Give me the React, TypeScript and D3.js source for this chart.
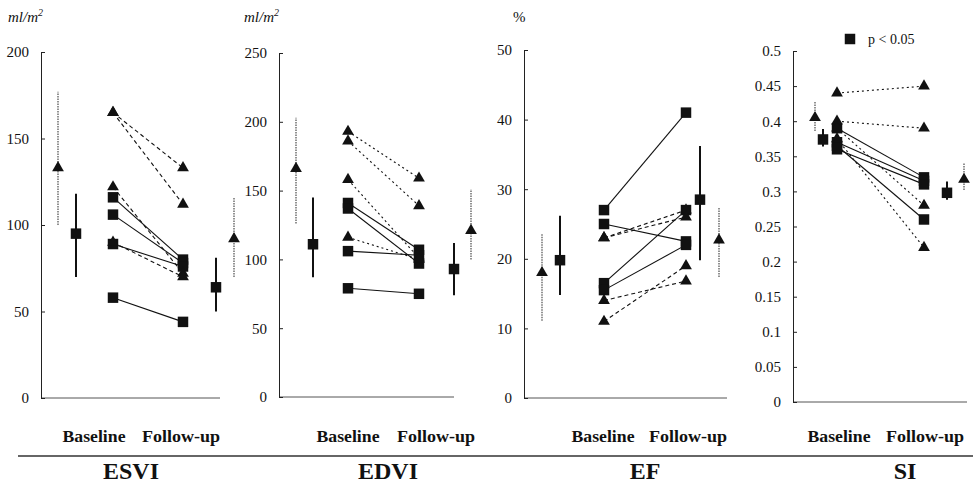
import React, { useEffect, useRef } from "react";
import * as d3 from "d3";

// column keys along each panel: summary markers left, paired points, summary markers right
const colKeys = ["triL", "sqL", "base", "follow", "sqR", "triR"];

// ESVI (ml/m2)
const esviTicks = [0, 50, 100, 150, 200];
const esviTriBase = [165, 165, 122, 90];
const esviTriFollow = [133, 112, 72, 70];
const esviSqBase = [116, 106, 89, 58];
const esviSqFollow = [80, 78, 76, 44];
// [mean, low, high]
const esviTriBaseSum = [133, 100, 177];
const esviSqBaseSum = [95, 70, 118];
const esviSqFollowSum = [64, 50, 81];
const esviTriFollowSum = [92, 70, 116];

// EDVI (ml/m2)
const edviTicks = [0, 50, 100, 150, 200, 250];
const edviTriBase = [193, 186, 158, 116];
const edviTriFollow = [159, 139, 101, 100];
const edviSqBase = [141, 137, 106, 79];
const edviSqFollow = [107, 97, 103, 75];
const edviTriBaseSum = [166, 126, 203];
const edviSqBaseSum = [111, 87, 145];
const edviSqFollowSum = [93, 74, 112];
const edviTriFollowSum = [121, 100, 151];

// EF (%)
const efTicks = [0, 10, 20, 30, 40, 50];
const efTriBase = [23, 23, 14, 11];
const efTriFollow = [27, 26, 16.8, 19];
const efSqBase = [27, 25, 16.5, 15.5];
const efSqFollow = [41, 22.5, 27, 22];
const efTriBaseSum = [18, 11.1, 23.6];
const efSqBaseSum = [19.8, 14.8, 26.2];
const efSqFollowSum = [28.5, 19.8, 36.2];
const efTriFollowSum = [22.7, 17.4, 27.4];

// SI
const siTicks = [0, 0.05, 0.1, 0.15, 0.2, 0.25, 0.3, 0.35, 0.4, 0.45, 0.5];
const siTriBase = [0.44, 0.4, 0.39, 0.375];
const siTriFollow = [0.45, 0.39, 0.28, 0.22];
const siSqBase = [0.39, 0.37, 0.36, 0.365];
const siSqFollow = [0.32, 0.315, 0.31, 0.26];
const siTriBaseSum = [0.405, 0.386, 0.428];
const siSqBaseSum = [0.374, 0.364, 0.389];
const siSqFollowSum = [0.298, 0.288, 0.314];
const siTriFollowSum = [0.317, 0.302, 0.34];

const xLabels = ["Baseline", "Follow-up"];
const legendText = "p < 0.05";

const panels = [
  { title: "ESVI", unit: "ml/m", sup: "2", ticks: esviTicks, triBase: esviTriBase, triFollow: esviTriFollow, sqBase: esviSqBase, sqFollow: esviSqFollow, sums: [esviTriBaseSum, esviSqBaseSum, esviSqFollowSum, esviTriFollowSum], dash: "4,3" },
  { title: "EDVI", unit: "ml/m", sup: "2", ticks: edviTicks, triBase: edviTriBase, triFollow: edviTriFollow, sqBase: edviSqBase, sqFollow: edviSqFollow, sums: [edviTriBaseSum, edviSqBaseSum, edviSqFollowSum, edviTriFollowSum], dash: "2,3" },
  { title: "EF", unit: "%", sup: "", ticks: efTicks, triBase: efTriBase, triFollow: efTriFollow, sqBase: efSqBase, sqFollow: efSqFollow, sums: [efTriBaseSum, efSqBaseSum, efSqFollowSum, efTriFollowSum], dash: "4,3" },
  { title: "SI", unit: "", sup: "", ticks: siTicks, triBase: siTriBase, triFollow: siTriFollow, sqBase: siSqBase, sqFollow: siSqFollow, sums: [siTriBaseSum, siSqBaseSum, siSqFollowSum, siTriFollowSum], dash: "2,3" },
];

// pixel layout for each panel
const layouts = [
  { axisX: 41, xEnd: 220, y0: 398, yTop: 52, cols: [17, 35, 72, 142, 175, 193], labels: [94, 181], titleX: 131, unitX: 8 },
  { axisX: 279, xEnd: 454, y0: 397, yTop: 53, cols: [17, 34, 69, 140, 175, 192], labels: [348, 436], titleX: 388, unitX: 244 },
  { axisX: 524, xEnd: 727, y0: 398, yTop: 50, cols: [18, 36, 80, 162, 176, 195], labels: [603, 688], titleX: 645, unitX: 513 },
  { axisX: 793, xEnd: 967, y0: 402, yTop: 51, cols: [22, 30, 44, 131, 154, 171], labels: [839, 925], titleX: 905, unitX: 0 },
];

const FONT = "Liberation Serif, Times New Roman, serif";

const tri = d3.symbol().type(d3.symbolTriangle).size(60)();
const sq = d3.symbol().type(d3.symbolSquare).size(110)();

function drawPanel(svg: any, p: any, L: any) {
  const y = d3.scaleLinear().domain([0, p.ticks[p.ticks.length - 1]]).range([L.y0, L.yTop]);
  const x = d3.scaleOrdinal<string, number>().domain(colKeys).range(L.cols.map((c: number) => L.axisX + c));
  const g = svg.append("g");

  // x axis baseline
  g.append("line")
    .attr("x1", L.axisX).attr("x2", L.xEnd)
    .attr("y1", L.y0).attr("y2", L.y0)
    .attr("stroke", "#555").attr("stroke-width", 1);

  // y axis
  const ax = g.append("g")
    .attr("transform", `translate(${L.axisX},0)`)
    .call(
      d3.axisLeft(y)
        .tickValues(p.ticks)
        .tickFormat((d: any) => String(+d.toFixed(2)))
        .tickSize(-4)
        .tickSizeOuter(0)
        .tickPadding(12)
    );
  ax.attr("font-size", 15).attr("font-family", FONT);
  ax.select(".domain").attr("stroke", "#222");
  ax.selectAll(".tick line").attr("stroke", "#222");
  ax.selectAll(".tick text").attr("fill", "#111");

  // unit label
  if (p.unit) {
    const t = g.append("text")
      .attr("x", L.unitX).attr("y", 22)
      .attr("font-family", FONT).attr("font-size", 15)
      .attr("font-style", p.sup ? "italic" : "normal")
      .attr("fill", "#111")
      .text(p.unit);
    if (p.sup) t.append("tspan").attr("dy", -6).attr("font-size", 10).text(p.sup);
  }

  // paired lines
  p.triBase.forEach((v: number, i: number) => {
    g.append("line")
      .attr("x1", x("base")).attr("y1", y(v))
      .attr("x2", x("follow")).attr("y2", y(p.triFollow[i]))
      .attr("stroke", "#111").attr("stroke-width", 1.1)
      .attr("stroke-dasharray", p.dash);
  });
  p.sqBase.forEach((v: number, i: number) => {
    g.append("line")
      .attr("x1", x("base")).attr("y1", y(v))
      .attr("x2", x("follow")).attr("y2", y(p.sqFollow[i]))
      .attr("stroke", "#111").attr("stroke-width", 1.1);
  });

  // summary error bars
  const sumCols = ["triL", "sqL", "sqR", "triR"];
  p.sums.forEach((s: number[], i: number) => {
    const isTri = sumCols[i].startsWith("tri");
    g.append("line")
      .attr("x1", x(sumCols[i])).attr("x2", x(sumCols[i]))
      .attr("y1", y(s[1])).attr("y2", y(s[2]))
      .attr("stroke", isTri ? "#777" : "#111")
      .attr("stroke-width", isTri ? 1.6 : 2)
      .attr("stroke-dasharray", isTri ? "1.5,1" : null);
  });

  // markers
  const marks: { c: string; v: number; t: boolean }[] = [];
  p.sqBase.forEach((v: number) => marks.push({ c: "base", v, t: false }));
  p.sqFollow.forEach((v: number) => marks.push({ c: "follow", v, t: false }));
  p.triBase.forEach((v: number) => marks.push({ c: "base", v, t: true }));
  p.triFollow.forEach((v: number) => marks.push({ c: "follow", v, t: true }));
  sumCols.forEach((c, i) => marks.push({ c, v: p.sums[i][0], t: c.startsWith("tri") }));

  g.selectAll("path.mark")
    .data(marks)
    .join("path")
    .attr("class", "mark")
    .attr("d", (d: any) => (d.t ? tri : sq))
    .attr("transform", (d: any) => `translate(${x(d.c)},${y(d.v)})`)
    .attr("fill", "#111");

  // category labels under the panel
  g.selectAll("text.cat")
    .data(xLabels)
    .join("text")
    .attr("class", "cat")
    .attr("x", (_: any, i: number) => L.labels[i])
    .attr("y", 442)
    .attr("text-anchor", "middle")
    .attr("textLength", (_: any, i: number) => (i === 0 ? 63 : 78))
    .attr("lengthAdjust", "spacingAndGlyphs")
    .attr("font-family", FONT).attr("font-size", 16).attr("font-weight", "bold")
    .attr("fill", "#111")
    .text((d: string) => d);

  // title
  g.append("text")
    .attr("x", L.titleX).attr("y", 479)
    .attr("text-anchor", "middle")
    .attr("font-family", FONT).attr("font-size", 24).attr("font-weight", "bold")
    .attr("fill", "#111")
    .text(p.title);
}

export default function App() {
  const ref = useRef<SVGSVGElement>(null);

  useEffect(() => {
    const svg = d3.select(ref.current);
    svg.selectAll("*").remove();

    panels.forEach((p, i) => drawPanel(svg, p, layouts[i]));

    // rule between the category labels and the titles
    svg.append("line")
      .attr("x1", 18).attr("x2", 973)
      .attr("y1", 456).attr("y2", 456)
      .attr("stroke", "#333").attr("stroke-width", 1.5);

    // legend
    svg.append("path")
      .attr("d", sq)
      .attr("transform", "translate(850,39)")
      .attr("fill", "#111");
    svg.append("text")
      .attr("x", 868).attr("y", 44)
      .attr("font-family", FONT).attr("font-size", 14)
      .attr("fill", "#111")
      .text(legendText);
  }, []);

  return (
    <svg
      ref={ref}
      width={973}
      height={485}
      style={{ position: "absolute", left: 0, top: 0, background: "#fff" }}
    />
  );
}
